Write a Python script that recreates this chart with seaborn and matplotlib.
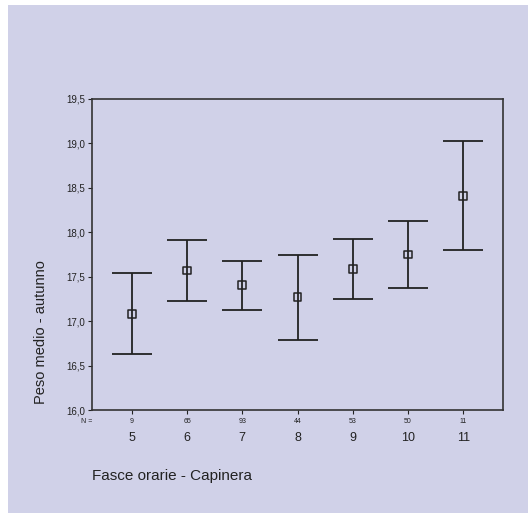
import matplotlib
matplotlib.use("Agg")
import matplotlib.pyplot as plt
import matplotlib.ticker as mtick
from matplotlib.patches import Rectangle
import seaborn as sns
import pandas as pd

# dati
fasce = ['5', '6', '7', '8', '9', '10', '11']
n_casi = ['9', '65', '93', '44', '53', '50', '11']
media = [17.08, 17.57, 17.41, 17.27, 17.59, 17.75, 18.41]
sup = [17.54, 17.91, 17.68, 17.75, 17.93, 18.13, 19.03]
inf = [16.63, 17.23, 17.13, 16.79, 17.25, 17.37, 17.80]

lavanda = '#d0d1e8'
nero = '#222222'

sns.set_theme(style="ticks")
plt.rcParams['font.family'] = ['Liberation Sans', 'DejaVu Sans']

df = pd.DataFrame({'fascia': fasce, 'n': n_casi, 'media': media, 'sup': sup, 'inf': inf})
df['pos'] = range(len(df))

fig = plt.figure(figsize=(5.28, 5.19), dpi=100)
fig.patch.set_facecolor('white')
fig.patches.append(Rectangle((8 / 528, 1 - 513 / 519), 520 / 528, 508 / 519,
                             transform=fig.transFigure, facecolor=lavanda,
                             edgecolor='none', zorder=-5))

ax = fig.add_axes([92 / 528, 1 - 410 / 519, 411 / 528, 311 / 519])
ax.set_zorder(2)
ax.set_facecolor(lavanda)

ax.errorbar(df['pos'], df['media'],
            yerr=[df['media'] - df['inf'], df['sup'] - df['media']],
            fmt='none', ecolor=nero, elinewidth=1.3, capsize=14.4, capthick=1.3, zorder=2)
sns.scatterplot(data=df, x='pos', y='media', marker='s', s=30, facecolor='none',
                edgecolor=nero, linewidth=1.1, ax=ax, zorder=3)

ax.set_xlim(-0.72, 6.72)
ax.set_ylim(16.0, 19.5)
ax.set_yticks([16.0, 16.5, 17.0, 17.5, 18.0, 18.5, 19.0, 19.5])
ax.yaxis.set_major_formatter(mtick.FuncFormatter(lambda v, p: f'{v:.1f}'.replace('.', ',')))
ax.set_xticks(df['pos'])
ax.set_xticklabels(df['fascia'], fontsize=9, color=nero)
ax.tick_params(axis='x', length=3, width=0.8, pad=12.5, colors=nero)
ax.tick_params(axis='y', length=3, width=0.8, pad=2, labelsize=7, colors=nero)
ax.set_xlabel('')
ax.set_ylabel('')

for spine in ax.spines.values():
    spine.set_color('#333333')
    spine.set_linewidth(1.2)

# riga N
for i, n in zip(df['pos'], df['n']):
    ax.text(i, -0.038, n, transform=ax.get_xaxis_transform(), ha='center', va='center',
            fontsize=5, color=nero)
ax.text(-0.72, -0.038, 'N =', transform=ax.get_xaxis_transform(), ha='right', va='center',
        fontsize=5, color=nero)

fig.text(41 / 528, 1 - 332 / 519, 'Peso medio - autunno', rotation=90, ha='center', va='center',
         fontsize=10.5, color=nero)
fig.text(92 / 528, 1 - 476 / 519, 'Fasce orarie - Capinera', ha='left', va='center',
         fontsize=11, color=nero)

fig.savefig('out.png', dpi=100, facecolor=fig.get_facecolor())
